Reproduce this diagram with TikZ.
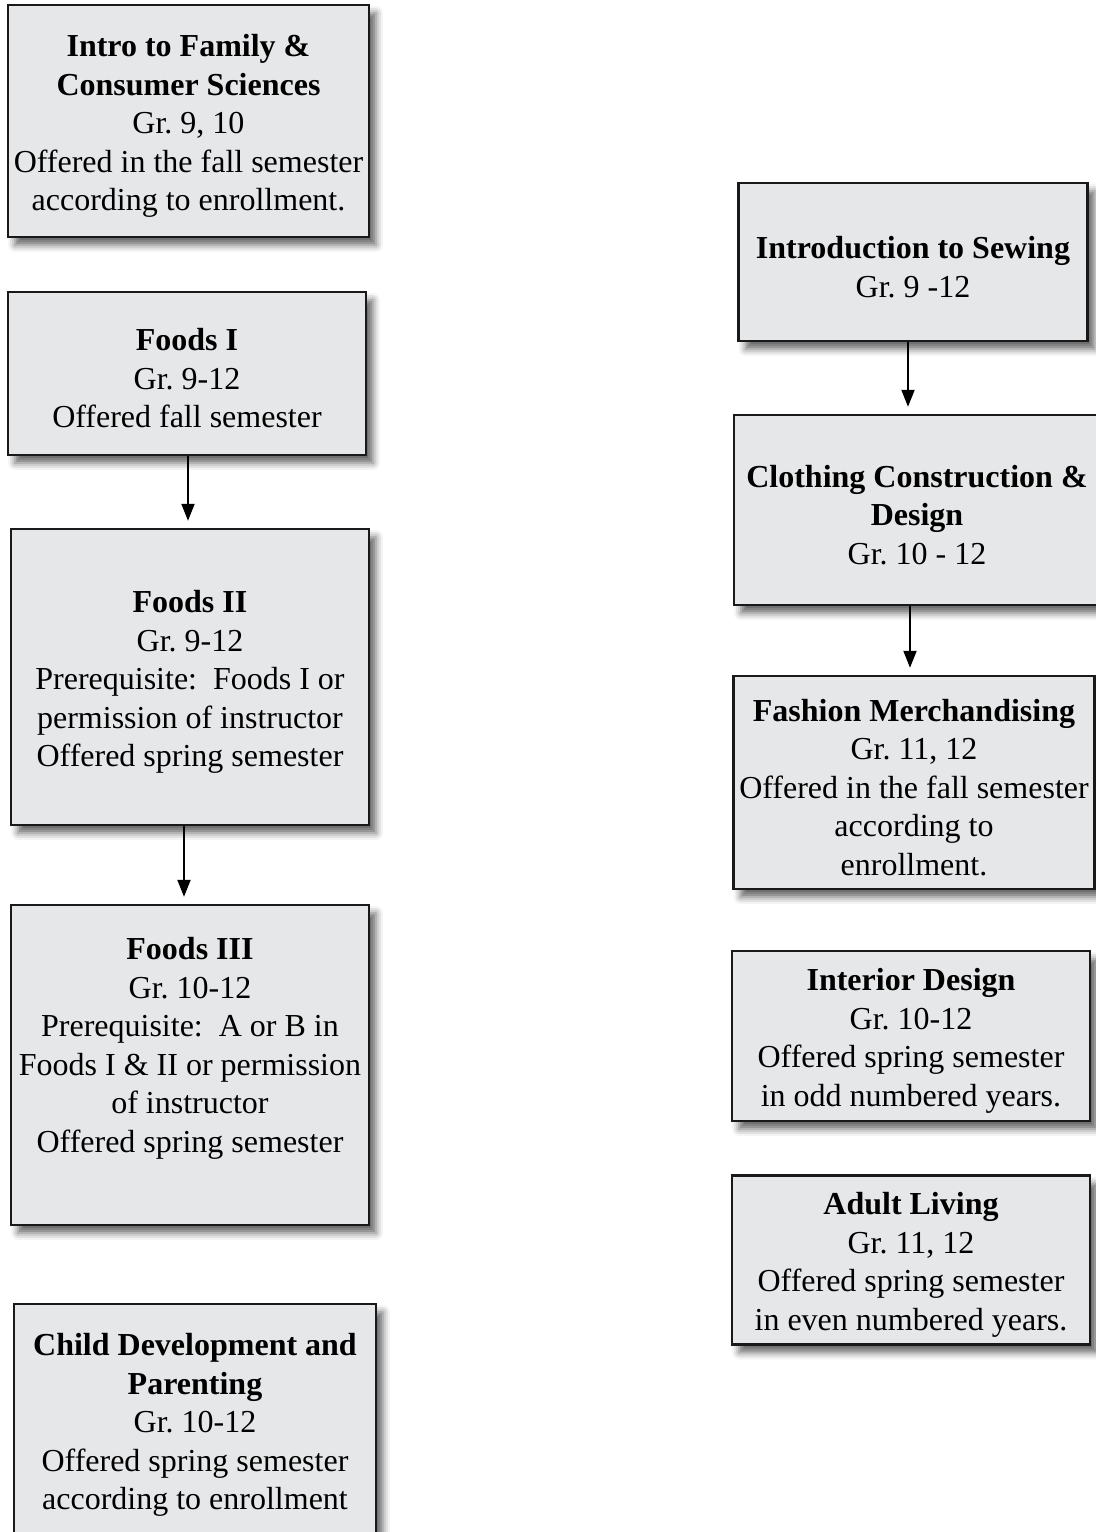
\documentclass[tikz,border=0pt]{standalone}
\usepackage{fontspec}
\setmainfont{Liberation Serif}
\usetikzlibrary{arrows.meta,shadows.blur}
\definecolor{boxgray}{HTML}{E6E7E8}
\frenchspacing
\newcommand{\headroom}{\rule{0pt}{16pt}}

\tikzset{
  course/.style={draw=black!90, line width=1.2pt, fill=boxgray, inner sep=0pt, align=center,
    font=\fontsize{16pt}{19.25pt}\selectfont,
    blur shadow={shadow xshift=3.5pt, shadow yshift=-4pt, shadow blur radius=3.5pt, shadow opacity=60}},
  arr/.style={line width=1pt, -{Triangle[length=8.5pt,width=6.5pt]}, shorten >=3.5pt}
}

\begin{document}
\begin{tikzpicture}[x=0.5pt,y=-0.5pt]
\useasboundingbox (0,0) rectangle (1096,1532);
% left column
\node[course, minimum width=180.5pt, minimum height=116pt] (intro) at (188.5,121) {\headroom\textbf{Intro to Family \&}\\\textbf{Consumer Sciences}\\Gr. 9, 10\\Offered in the fall semester\\according to enrollment.};
\node[course, minimum width=179pt, minimum height=81.5pt] (foodsI) at (187,373.5) {\headroom\textbf{Foods I}\\Gr. 9-12\\Offered fall semester};
\node[course, minimum width=179pt, minimum height=148pt] (foodsII) at (190,677) {\headroom\textbf{Foods II}\\Gr. 9-12\\Prerequisite:\ \ Foods I or\\permission of instructor\\Offered spring semester};
\node[course, minimum width=179pt, minimum height=160pt] (foodsIII) at (190,1065) {\headroom\textbf{Foods III}\\Gr. 10-12\\Prerequisite:\ \ A or B in\\Foods I \& II or permission\\of instructor\\Offered spring semester\\\strut};
\node[course, minimum width=181pt, minimum height=116pt] (child) at (195,1420) {\headroom\textbf{Child Development and}\\\textbf{Parenting}\\Gr. 10-12\\Offered spring semester\\according to enrollment};
% right column
\node[course, minimum width=174.5pt, minimum height=79pt] (sewing) at (913,262) {\headroom\textbf{Introduction to Sewing}\\Gr. 9 -12};
\node[course, minimum width=183pt, minimum height=95pt] (cloth) at (917,510) {\headroom\textbf{Clothing Construction \&}\\\textbf{Design}\\Gr. 10 - 12};
\node[course, minimum width=180.5pt, minimum height=106.5pt] (fashion) at (914,782.5) {\headroom\textbf{Fashion Merchandising}\\Gr. 11, 12\\Offered in the fall semester\\according to\\enrollment.};
\node[course, minimum width=179pt, minimum height=85pt] (interior) at (911,1036) {\headroom\textbf{Interior Design}\\Gr. 10-12\\Offered spring semester\\in odd numbered years.};
\node[course, minimum width=179pt, minimum height=84.5pt] (adult) at (911,1260) {\headroom\textbf{Adult Living}\\Gr. 11, 12\\Offered spring semester\\in even numbered years.};
% arrows
\draw[arr] ([xshift=0.5pt]foodsI.south) -- ([xshift=-1pt]foodsII.north);
\draw[arr] ([xshift=-3pt]foodsII.south) -- ([xshift=-3pt]foodsIII.north);
\draw[arr] ([xshift=-2.5pt]sewing.south) -- ([xshift=-4.5pt]cloth.north);
\draw[arr] ([xshift=-3.5pt]cloth.south) -- ([xshift=-2pt]fashion.north);
\end{tikzpicture}
\end{document}
